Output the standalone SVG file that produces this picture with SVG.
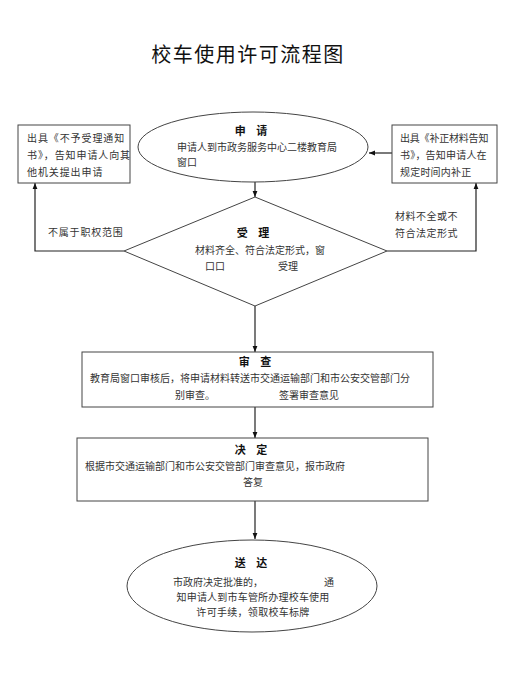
<svg xmlns="http://www.w3.org/2000/svg" width="524" height="700" viewBox="0 0 524 700">
<defs>
<style>
.shape{fill:#fff;stroke:#444;stroke-width:1}
.ln{fill:none;stroke:#222;stroke-width:1.2}
.t{font-family:"Noto Sans CJK SC","Liberation Sans",sans-serif;font-size:10px;fill:#333}
.h{font-family:"Noto Sans CJK SC","Liberation Sans",sans-serif;font-size:11px;font-weight:bold;fill:#111}
.c{text-anchor:middle}
</style>
<marker id="ah" viewBox="0 0 10 10" refX="10" refY="5" markerWidth="6" markerHeight="6" orient="auto" markerUnits="userSpaceOnUse">
<path d="M0,1 L10,5 L0,9 z" fill="#111"/>
</marker>
</defs>
<rect width="524" height="700" fill="#fff"/>
<text x="248" y="62" class="c" font-family="'Noto Sans CJK SC',sans-serif" font-size="20" letter-spacing="1.5" fill="#111">校车使用许可流程图</text>

<g id="connectors">
<line class="ln" x1="255" y1="182" x2="255" y2="197" marker-end="url(#ah)"/>
<line class="ln" x1="392" y1="153" x2="369" y2="153" marker-end="url(#ah)"/>
<polyline class="ln" points="124,251 35,251 35,183" marker-end="url(#ah)"/>
<polyline class="ln" points="387,251 476,251 476,183" marker-end="url(#ah)"/>
<line class="ln" x1="255" y1="306" x2="255" y2="352" marker-end="url(#ah)"/>
<line class="ln" x1="255" y1="407" x2="255" y2="438" marker-end="url(#ah)"/>
<line class="ln" x1="255" y1="501" x2="255" y2="539" marker-end="url(#ah)"/>
<text x="48" y="236" class="t" letter-spacing="0.8">不属于职权范围</text>
<text x="395" y="220" class="t" letter-spacing="0.5">材料不全或不</text>
<text x="395" y="237" class="t" letter-spacing="0.5">符合法定形式</text>
</g>

<g id="apply">
<ellipse class="shape" cx="253" cy="147" rx="115" ry="35"/>
<text x="253" y="135" class="h c" letter-spacing="4">申 请</text>
<text x="177" y="151" class="t" font-size="9.5">申请人到市政务服务中心二楼教育局</text>
<text x="177" y="166" class="t" font-size="9.5">窗口</text>
</g>

<g id="reject">
<rect class="shape" x="18" y="125" width="112" height="58"/>
<text x="27" y="142" class="t" letter-spacing="0.9">出具《不予受理通知</text>
<text x="27" y="159" class="t" letter-spacing="0.9">书》，告知申请人向其</text>
<text x="27" y="176" class="t" letter-spacing="0.9">他机关提出申请</text>
</g>

<g id="supplement">
<rect class="shape" x="392" y="125" width="105" height="58"/>
<text x="400" y="142" class="t" letter-spacing="-0.2">出具《补正材料告知</text>
<text x="400" y="159" class="t" letter-spacing="0.2">书》，告知申请人在</text>
<text x="400" y="176" class="t" letter-spacing="0.2">规定时间内补正</text>
</g>

<g id="accept">
<polygon class="shape" points="255,197 387,251 255,306 124,251"/>
<text x="255" y="237" class="h c" letter-spacing="4">受 理</text>
<text x="195" y="254" class="t" font-size="9.2">材料齐全、符合法定形式，窗</text>
<text x="205" y="270" class="t" font-size="9.2">口口</text>
<text x="278" y="270" class="t" font-size="9.2">受理</text>
</g>

<g id="review">
<rect class="shape" x="82" y="352" width="351" height="55"/>
<text x="257" y="366" class="h c" letter-spacing="4">审 查</text>
<text x="90" y="382" class="t" font-size="10.4">教育局窗口审核后，将申请材料转送市交通运输部门和市公安交管部门分</text>
<text x="175" y="399" class="t" font-size="10.4">别审查。</text>
<text x="279" y="399" class="t" font-size="10.4">签署审查意见</text>
</g>

<g id="decide">
<rect class="shape" x="77" y="438" width="351" height="63"/>
<text x="253" y="454" class="h c" letter-spacing="4">决 定</text>
<text x="85" y="470" class="t" font-size="10.4">根据市交通运输部门和市公安交管部门审查意见，报市政府</text>
<text x="253" y="486" class="t c" font-size="10.4">答复</text>
</g>

<g id="deliver">
<ellipse class="shape" cx="252" cy="586" rx="125" ry="46"/>
<text x="253" y="567" class="h c" letter-spacing="4">送 达</text>
<text x="173" y="586" class="t" font-size="10.3">市政府决定批准的，</text>
<text x="324" y="586" class="t" font-size="10.3">通</text>
<text x="253" y="601" class="t c" font-size="10.3" letter-spacing="0.2">知申请人到市车管所办理校车使用</text>
<text x="253" y="616" class="t c" font-size="10.3" letter-spacing="0.3">许可手续，领取校车标牌</text>
</g>
</svg>
